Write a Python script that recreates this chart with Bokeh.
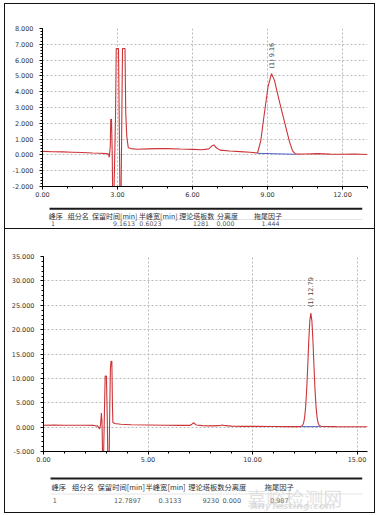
import math
from bokeh.plotting import figure
from bokeh.layouts import column
from bokeh.models import Range1d, Label, SingleIntervalTicker, PrintfTickFormatter
from bokeh.core.properties import value
from bokeh.embed import file_html
from bokeh.resources import INLINE

# ---------------- data : chromatogram 1 ----------------
t1 = [0.00, 0.40, 0.80, 1.20, 1.60, 2.00, 2.30, 2.55, 2.64, 2.67, 2.71, 2.73, 2.76, 2.79, 2.81,
      2.85, 2.89, 2.92, 2.95, 3.04, 3.07, 3.10, 3.14, 3.17, 3.20, 3.30, 3.33, 3.37, 3.43, 3.55,
      3.80, 4.20, 4.60, 5.00, 5.50, 6.00, 6.40, 6.65, 6.80, 6.86, 6.95, 7.10, 7.50, 7.90, 8.30,
      8.60, 8.73, 8.87, 9.02, 9.16, 9.28, 9.47, 9.67, 9.87, 10.00, 10.13, 10.50, 11.00, 11.50,
      12.00, 12.50, 13.00]
v1 = [0.22, 0.20, 0.19, 0.17, 0.15, 0.12, 0.10, 0.08, 0.05, -0.15, 0.50, 2.26, 2.26, 0.00, -3.00,
      -3.00, 0.00, 2.40, 6.73, 6.73, 2.00, -3.00, -3.00, 2.00, 6.73, 6.73, 2.60, 1.20, 0.45, 0.40,
      0.36, 0.38, 0.40, 0.40, 0.37, 0.35, 0.33, 0.38, 0.60, 0.63, 0.45, 0.30, 0.25, 0.21, 0.17,
      0.12, 0.89, 2.57, 4.30, 5.15, 4.70, 3.42, 2.15, 0.89, 0.25, 0.05, 0.06, 0.08, 0.05,
      0.04, 0.06, 0.03]
base1_t = [8.60, 10.10]
base1_v = [0.10, 0.04]
peak1_t = [9.16]
peak1_v = [5.15]
peak1_text = ["(1) 9.16"]
x1_range = (0, 13)
y1_range = (-2, 8)
x1_step, y1_step = 3, 1

# ---------------- data : chromatogram 2 ----------------
t2 = [0.00, 0.50, 1.00, 1.50, 2.00, 2.40, 2.60, 2.68, 2.73, 2.77, 2.80, 2.83, 2.87, 2.91, 2.95,
      3.01, 3.05, 3.08, 3.14, 3.17, 3.20, 3.23, 3.27, 3.30, 3.32, 3.40, 3.70, 4.20, 5.00, 5.80,
      6.50, 7.00, 7.10, 7.18, 7.30, 7.60, 8.00, 8.40, 8.55, 8.70, 9.00, 9.50, 10.00, 11.00, 11.80,
      12.30, 12.39, 12.44, 12.49, 12.54, 12.59, 12.64, 12.69, 12.74, 12.79, 12.84, 12.89, 12.94,
      12.99, 13.04, 13.09, 13.14, 13.19, 13.30, 14.00, 15.00, 15.50]
v2 = [0.40, 0.42, 0.40, 0.40, 0.38, 0.35, 0.20, -0.40, 0.50, 2.90, 1.00, -7.00, -7.00, 2.00, 10.50,
      10.50, 2.00, -7.00, -7.00, 4.00, 11.90, 13.50, 13.50, 4.00, 1.00, 0.75, 0.60, 0.50, 0.45, 0.40,
      0.35, 0.35, 0.60, 0.90, 0.45, 0.30, 0.25, 0.30, 0.45, 0.30, 0.20, 0.15, 0.15, 0.12, 0.10,
      0.10, 0.36, 0.80, 1.90, 4.10, 7.60, 12.40, 17.70, 21.80, 23.40, 21.80, 17.70, 12.40,
      7.60, 4.10, 1.90, 0.80, 0.36, 0.12, 0.10, 0.08, 0.08]
base2_t = [12.35, 13.25]
base2_v = [0.10, 0.10]
peak2_t = [12.79]
peak2_v = [23.40]
peak2_text = ["(1) 12.79"]
x2_range = (0, 15.5)
y2_range = (-5, 35)
x2_step, y2_step = 5, 5

# ---------------- data : result tables ----------------
table_headers = ["峰序", "组分名", "保留时间[min]", "半峰宽[min]", "理论塔板数", "分离度", "拖尾因子"]
table1_row = ["1", "", "9.1613", "0.6023", "1281", "0.000", "1.444"]
table2_row = ["1", "", "12.7897", "0.3133", "9230", "0.000", "0.987"]
y_unit = "[mAU]"
x_unit = "[Unit: min]"
watermark_cn = "嘉峪检测网"
watermark_en = "AnyTesting.com"

# ---------------- styles ----------------
TRACE = "#cc3438"
BASE = "#4f5fc4"
GRID = "#b8b8b8"
FONT = "DejaVu Sans"
CJK = "Noto Sans CJK SC"
W = 369
BORDER = "1px solid #111"


def chart(t, v, bt, bv, pk_t, pk_v, pk_txt, xr, yr, xstep, ystep, xminor, yminor,
          h, left, right, top, bottom, mau_dx, mau_dy, unit_dx, unit_dy, gap):
    p = figure(width=W, height=h, x_range=Range1d(*xr), y_range=Range1d(*yr), title=None,
               output_backend="svg", toolbar_location=None,
               min_border_left=left, min_border_right=right,
               min_border_top=top, min_border_bottom=bottom)
    p.outline_line_color = None
    p.xaxis.ticker = SingleIntervalTicker(interval=xstep, num_minor_ticks=xminor)
    p.yaxis.ticker = SingleIntervalTicker(interval=ystep, num_minor_ticks=yminor)
    p.xaxis.formatter = PrintfTickFormatter(format="%.2f")
    p.yaxis.formatter = PrintfTickFormatter(format="%.3f")
    for ax in (p.xaxis, p.yaxis):
        ax.axis_line_color = "#000"
        ax.major_tick_line_color = "#000"
        ax.minor_tick_line_color = "#000"
        ax.major_tick_in = 0
        ax.major_tick_out = 3
        ax.minor_tick_in = 0
        ax.minor_tick_out = 2
        ax.major_label_text_font = FONT
        ax.major_label_text_font_size = "6.5px"
        ax.major_label_text_color = "#333"
    p.yaxis.major_label_standoff = 6
    p.xaxis.major_label_standoff = 2
    p.xaxis.major_label_text_align = "left"
    for g in (p.xgrid, p.ygrid):
        g.grid_line_color = GRID
        g.grid_line_dash = "2 2"
        g.grid_line_width = 1
    p.line(t, v, line_color=TRACE, line_width=1.1)
    p.line(bt, bv, line_color=BASE, line_width=1)
    p.text(x=pk_t, y=pk_v, text=pk_txt, angle=math.pi / 2, text_align="left",
           text_baseline="middle", text_font=value(FONT), text_font_size="6.5px",
           text_color="#444", y_offset=-gap)
    p.add_layout(Label(x=xr[0], y=yr[1], x_offset=mau_dx, y_offset=mau_dy, text=y_unit,
                       text_font=FONT, text_font_size="6.5px", text_color="#333",
                       text_align="left", text_baseline="middle"))
    p.add_layout(Label(x=xr[1], y=yr[0], x_offset=unit_dx, y_offset=unit_dy, text=x_unit,
                       text_font=FONT, text_font_size="6.5px", text_color="#333",
                       text_align="right", text_baseline="middle"))
    return p


def table(h, row, head_x, row_left_x, row_right_x, row_center_x, line_y, head_y, row_y, sep_y,
          head_fs, row_fs):
    p = figure(width=W, height=h, x_range=Range1d(0, W), y_range=Range1d(h, 0), title=None,
               output_backend="svg", toolbar_location=None, min_border=0,
               x_axis_location=None, y_axis_location=None)
    p.grid.visible = False
    p.outline_line_color = None
    p.segment(x0=[8], y0=[line_y], x1=[363], y1=[line_y], line_color="#1a1a1a", line_width=2)
    p.segment(x0=[8], y0=[sep_y], x1=[363], y1=[sep_y], line_color="#e4e4e4", line_width=1)
    p.text(x=head_x, y=[head_y] * len(table_headers), text=table_headers, text_align="center",
           text_baseline="middle", text_font=value(CJK), text_font_size=head_fs, text_color="#333")
    p.text(x=row_left_x, y=[row_y], text=[row[0]], text_align="center",
           text_baseline="middle", text_font=value(FONT), text_font_size=row_fs, text_color="#555")
    p.text(x=row_right_x, y=[row_y] * 4, text=row[2:6], text_align="right",
           text_baseline="middle", text_font=value(FONT), text_font_size=row_fs, text_color="#555")
    p.text(x=row_center_x, y=[row_y], text=[row[6]], text_align="center",
           text_baseline="middle", text_font=value(FONT), text_font_size=row_fs, text_color="#555")
    return p


c1 = chart(t1, v1, base1_t, base1_v, peak1_t, peak1_v, peak1_text, x1_range, y1_range,
           x1_step, y1_step, 3, 5, h=200, left=37, right=7, top=24, bottom=18,
           mau_dx=-6, mau_dy=10, unit_dx=-9, unit_dy=-14, gap=5)
tb1 = table(24, table1_row, [15, 40.5, 82, 131.5, 175, 210, 256], [12], [105, 135, 189, 218],
            [259], line_y=4.3, head_y=11, row_y=18.7, sep_y=15, head_fs="7px", row_fs="6.3px")

c2 = chart(t2, v2, base2_t, base2_v, peak2_t, peak2_v, peak2_text, x2_range, y2_range,
           x2_step, y2_step, 5, 5, h=245, left=38, right=7, top=27, bottom=23,
           mau_dx=-5, mau_dy=12, unit_dx=5, unit_dy=-16, gap=6)
tb2 = table(38, table2_row, [17.5, 45, 88.5, 139, 185.5, 218.5, 268.5], [13], [111, 157, 200, 225],
            [268.5], line_y=4, head_y=12.7, row_y=26, sep_y=19.5, head_fs="7.3px", row_fs="6.5px")
tb2.text(x=[232], y=[23], text=[watermark_cn], text_font=value(CJK), text_font_size="19px",
         text_color="#c8c8c8", text_alpha=0.55, text_align="left", text_baseline="alphabetic")
tb2.text(x=[236], y=[31], text=[watermark_en], text_font=value(FONT), text_font_size="9.5px",
         text_font_style="bold italic", text_color="#cdcdcd", text_alpha=0.6,
         text_align="left", text_baseline="alphabetic")

panel1 = column(c1, tb1, styles={"border": BORDER})
panel2 = column(c2, tb2, styles={"border-left": BORDER, "border-right": BORDER,
                                 "border-bottom": BORDER})
layout = column(panel1, panel2, margin=(3, 0, 0, 4))

open("out.html", "w").write(file_html(layout, INLINE))
